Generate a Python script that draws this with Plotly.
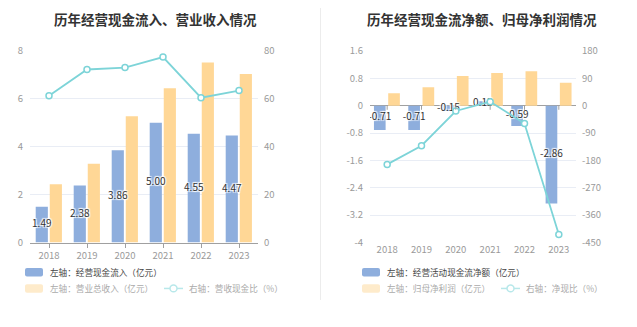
import plotly.graph_objects as go

# ---- data ----
years = ["2018", "2019", "2020", "2021", "2022", "2023"]

# left chart: cash inflow from operations, total revenue (亿元) and ratio (%)
cash_inflow = [1.49, 2.38, 3.86, 5.00, 4.55, 4.47]
revenue = [2.43, 3.29, 5.28, 6.45, 7.52, 7.04]
inflow_ratio = [61.3, 72.3, 73.1, 77.5, 60.5, 63.5]

# right chart: net operating cash flow, net profit attributable (亿元) and ratio (%)
net_cash = [-0.71, -0.71, -0.15, 0.13, -0.59, -2.86]
net_profit = [0.367, 0.54, 0.87, 0.96, 1.01, 0.675]
net_ratio = [-193.0, -131.5, -17.2, 13.5, -58.4, -423.7]

left_ticks = [0, 2, 4, 6, 8]
left_ticks_r = [0, 20, 40, 60, 80]
right_ticks = [-4, -3.2, -2.4, -1.6, -0.8, 0, 0.8, 1.6]
right_ticks_r = [-450, -360, -270, -180, -90, 0, 90, 180]

# ---- style ----
W, H = 637, 327
BLUE = "#8eaedd"
ORANGE = "#ffd796"
TEAL = "#7dd4d8"
GRID = "#e9edf5"
AXIS = "#a0a0a0"
TICK = "#9a9a9a"
FONT = "Noto Sans CJK SC"
SHADOW = "1px 1px 1px #fff, -1px -1px 1px #fff, 1px -1px 1px #fff, -1px 1px 1px #fff"

x = list(range(len(years)))


def px(v):
    return v / W


def py(v):
    return 1 - v / H


def fmt(v):
    return f"{v:g}"


fig = go.Figure()

# left chart bars
BW_L = 0.32
fig.add_trace(go.Bar(x=x, y=cash_inflow, width=BW_L, offset=-0.35, marker_color=BLUE,
                     marker_line_width=0, xaxis="x", yaxis="y", showlegend=False))
fig.add_trace(go.Bar(x=x, y=revenue, width=BW_L, offset=0.02, marker_color=ORANGE,
                     marker_line_width=0, xaxis="x", yaxis="y", showlegend=False))
fig.add_trace(go.Scatter(x=[i - 0.35 + BW_L / 2 for i in x], y=[v / 2 for v in cash_inflow],
                         mode="text", text=[f"{v:.2f}" for v in cash_inflow],
                         textfont=dict(size=10, color="#333333", family=FONT, shadow=SHADOW),
                         xaxis="x", yaxis="y", showlegend=False, hoverinfo="skip"))
fig.add_trace(go.Scatter(x=x, y=inflow_ratio, mode="lines+markers",
                         line=dict(color=TEAL, width=1.8),
                         marker=dict(symbol="circle", size=6, color="white",
                                     line=dict(color=TEAL, width=1.5)),
                         xaxis="x", yaxis="y2", showlegend=False))

# right chart bars
BW_R = 0.34
fig.add_trace(go.Bar(x=x, y=net_cash, width=BW_R, offset=-0.385, marker_color=BLUE,
                     marker_line_width=0, xaxis="x3", yaxis="y3", showlegend=False))
fig.add_trace(go.Bar(x=x, y=net_profit, width=BW_R, offset=0.03, marker_color=ORANGE,
                     marker_line_width=0, xaxis="x3", yaxis="y3", showlegend=False))
fig.add_trace(go.Scatter(x=[i - 0.385 + BW_R / 2 for i in x], y=[v / 2 for v in net_cash],
                         mode="text", text=[f"{v:.2f}" for v in net_cash],
                         textfont=dict(size=10, color="#333333", family=FONT, shadow=SHADOW),
                         xaxis="x3", yaxis="y3", showlegend=False, hoverinfo="skip"))
fig.add_trace(go.Scatter(x=x, y=net_ratio, mode="lines+markers",
                         line=dict(color=TEAL, width=1.8),
                         marker=dict(symbol="circle", size=6, color="white",
                                     line=dict(color=TEAL, width=1.5)),
                         xaxis="x3", yaxis="y4", showlegend=False))

ydom = [py(245), py(45)]
tickfont = dict(size=9.5, color=TICK, family=FONT)

fig.update_layout(
    width=W, height=H,
    margin=dict(l=0, r=0, t=0, b=0),
    paper_bgcolor="white", plot_bgcolor="white",
    font=dict(family=FONT),
    barmode="overlay",
    xaxis=dict(domain=[px(30), px(258)], range=[-0.5, 5.5], anchor="y",
               tickvals=x, ticktext=years, tickfont=tickfont,
               showline=True, linecolor=AXIS, linewidth=1,
               ticks="outside", ticklen=4, tickcolor=AXIS,
               showgrid=False, zeroline=False),
    yaxis=dict(domain=ydom, range=[0, 8], anchor="x", tickvals=left_ticks,
               ticktext=[fmt(v) for v in left_ticks], tickfont=tickfont,
               showgrid=True, gridcolor=GRID, zeroline=False, showline=False,
               ticks="", ticklabelstandoff=6),
    yaxis2=dict(overlaying="y", side="right", anchor="x", range=[0, 80],
                tickvals=left_ticks_r, ticktext=[fmt(v) for v in left_ticks_r],
                tickfont=tickfont, showgrid=False, zeroline=False, showline=False,
                ticks="", ticklabelstandoff=5),
    xaxis3=dict(domain=[px(370), px(576)], range=[-0.5, 5.5], anchor="y3",
                tickvals=x, ticktext=years, tickfont=tickfont,
                showline=False, showgrid=False, zeroline=False, ticks=""),
    yaxis3=dict(domain=ydom, range=[-4, 1.6], anchor="x3", tickvals=right_ticks,
                ticktext=[fmt(v) for v in right_ticks], tickfont=tickfont,
                showgrid=True, gridcolor=GRID, zeroline=True, zerolinecolor=AXIS,
                zerolinewidth=1, showline=False, ticks="", ticklabelstandoff=6),
    yaxis4=dict(overlaying="y3", side="right", anchor="x3", range=[-450, 180],
                tickvals=right_ticks_r, ticktext=[fmt(v) for v in right_ticks_r],
                tickfont=tickfont, showgrid=False, zeroline=False, showline=False,
                ticks="", ticklabelstandoff=5),
)

shapes = []
# tick marks hanging below the zero line of the right chart
for i in x:
    shapes.append(dict(type="line", xref="x3", yref="y3", x0=i, x1=i,
                       ysizemode="pixel", yanchor=0, y0=0, y1=-4,
                       line=dict(color=AXIS, width=1)))

# divider between the two panels
shapes.append(dict(type="line", xref="paper", yref="paper", x0=px(320.5), x1=px(320.5),
                   y0=py(0), y1=py(305), line=dict(color="#ececec", width=1)))


def rounded_box(x0, y0, x1, y1, r, color):
    path = (f"M{px(x0 + r)},{py(y0)} L{px(x1 - r)},{py(y0)} "
            f"Q{px(x1)},{py(y0)} {px(x1)},{py(y0 + r)} "
            f"L{px(x1)},{py(y1 - r)} Q{px(x1)},{py(y1)} {px(x1 - r)},{py(y1)} "
            f"L{px(x0 + r)},{py(y1)} Q{px(x0)},{py(y1)} {px(x0)},{py(y1 - r)} "
            f"L{px(x0)},{py(y0 + r)} Q{px(x0)},{py(y0)} {px(x0 + r)},{py(y0)} Z")
    return dict(type="path", xref="paper", yref="paper", path=path,
                fillcolor=color, line=dict(width=0))


annotations = []


def text_at(xp, yp, txt, size, color, anchor="left", bold=False):
    annotations.append(dict(xref="paper", yref="paper", x=px(xp), y=py(yp),
                            xanchor=anchor, yanchor="middle", showarrow=False,
                            text=f"<b>{txt}</b>" if bold else txt,
                            font=dict(size=size, color=color, family=FONT)))


def legend_block(x0, line_x0, row1, row2a, row2b):
    shapes.append(rounded_box(x0, 271.5, x0 + 18, 280.5, 2, BLUE))
    text_at(x0 + 23, 276, row1, 8.6, "#444444")
    shapes.append(rounded_box(x0, 288.5, x0 + 18, 297.5, 2, "#feebcb"))
    text_at(x0 + 23, 293, row2a, 8.6, "#aaaaaa")
    shapes.append(dict(type="line", xref="paper", yref="paper",
                       x0=px(line_x0), x1=px(line_x0 + 19), y0=py(293), y1=py(293),
                       line=dict(color="#b8e8ea", width=1.5)))
    cx = line_x0 + 9.5
    shapes.append(dict(type="circle", xref="paper", yref="paper",
                       x0=px(cx - 3.5), x1=px(cx + 3.5), y0=py(296.5), y1=py(289.5),
                       fillcolor="white", line=dict(color="#b8e8ea", width=1.5)))
    text_at(line_x0 + 23, 293, row2b, 8.6, "#aaaaaa")


legend_block(25, 164, "左轴：经营现金流入（亿元）", "左轴：营业总收入（亿元）", "右轴：营收现金比（%）")
legend_block(362, 501, "左轴：经营活动现金流净额（亿元）", "左轴：归母净利润（亿元）", "右轴：净现比（%）")

# panel titles
text_at(155, 12, "历年经营现金流入、营业收入情况", 13.5, "#333333", anchor="center", bold=True)
text_at(482, 12, "历年经营现金流净额、归母净利润情况", 13.5, "#333333", anchor="center", bold=True)

fig.update_layout(shapes=shapes, annotations=annotations)

fig.write_html("out.html")
